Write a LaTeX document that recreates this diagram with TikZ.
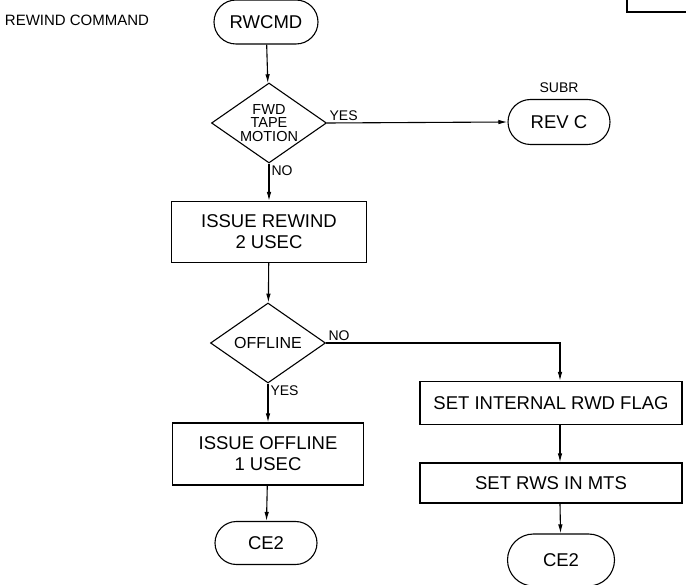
\documentclass[tikz,border=0pt]{standalone}
\usepackage{fontspec}
\setmainfont{Liberation Sans}
\usetikzlibrary{shapes.geometric,shapes.misc,arrows.meta}

\begin{document}
\begin{tikzpicture}[x=1pt,y=-1pt,line width=1.1pt,
  every node/.style={align=center,font=\fontsize{18.5}{21}\selectfont},
  term/.style={draw,rounded rectangle,inner sep=0pt,minimum width=104pt,minimum height=44pt},
  procbox/.style={draw,rectangle,inner sep=0pt},
  decide/.style={draw,diamond,aspect=1.44,inner sep=-2pt,minimum width=115pt,minimum height=80pt,
    font=\fontsize{16}{14}\selectfont},
  lbl/.style={font=\fontsize{14}{16}\selectfont,inner sep=2pt},
  flow/.style={-{Latex[length=9pt,width=4.5pt]}}]
  \useasboundingbox (0,0) rectangle (686,585);
  % corner of a box cut off by the page
  \draw (627,0) -- (627,12) -- (690,12);
  % main column
  \node[font=\fontsize{15}{17}\selectfont] (title) at (77,20) {REWIND COMMAND};
  \node[term] (rwcmd) at (266,22) {RWCMD};
  \node[decide,font=\fontsize{14.5}{13.5}\selectfont] (fwd) at (269,123) {FWD\\TAPE\\MOTION};
  \node[procbox,minimum width=195pt,minimum height=61pt] (rewind) at (269,232) {ISSUE REWIND\\2 USEC};
  \node[decide] (offline) at (268,343) {OFFLINE};
  \node[procbox,minimum width=191pt,minimum height=62pt] (issoff) at (268,454) {ISSUE OFFLINE\\1 USEC};
  \node[term,minimum width=102pt,minimum height=43pt] (celeft) at (266,543) {CE2};
  % subroutine
  \node[lbl] (subr) at (559,88) {SUBR};
  \node[term,minimum width=102pt,minimum height=45pt] (revc) at (559,122) {REV C};
  % right branch
  \coordinate (bend) at (560,343);
  \node[procbox,minimum width=262pt,minimum height=43pt] (flag) at (551,403) {SET INTERNAL RWD FLAG};
  \node[procbox,minimum width=262pt,minimum height=40pt] (rws) at (551,483) {SET RWS IN MTS};
  \node[term,minimum width=107pt,minimum height=52pt] (ceright) at (561,560) {CE2};
  % connectors
  \draw[flow] (rwcmd) -- (fwd);
  \draw[flow] (fwd.east) -- node[lbl,pos=0,above right] {YES} (revc.west);
  \draw[flow] (fwd.south) -- node[lbl,pos=0,below right] {NO} (rewind.north);
  \draw[flow] (rewind) -- (offline);
  \draw[flow] (offline.east) -- node[lbl,pos=0,above right] {NO} (bend) -- (bend |- flag.north);
  \draw[flow] (offline.south) -- node[lbl,pos=0,below right] {YES} (issoff.north);
  \draw[flow] (issoff) -- (celeft);
  \draw[flow] (bend |- flag.south) -- (bend |- rws.north);
  \draw[flow] (bend |- rws.south) -- (ceright);
\end{tikzpicture}
\end{document}
